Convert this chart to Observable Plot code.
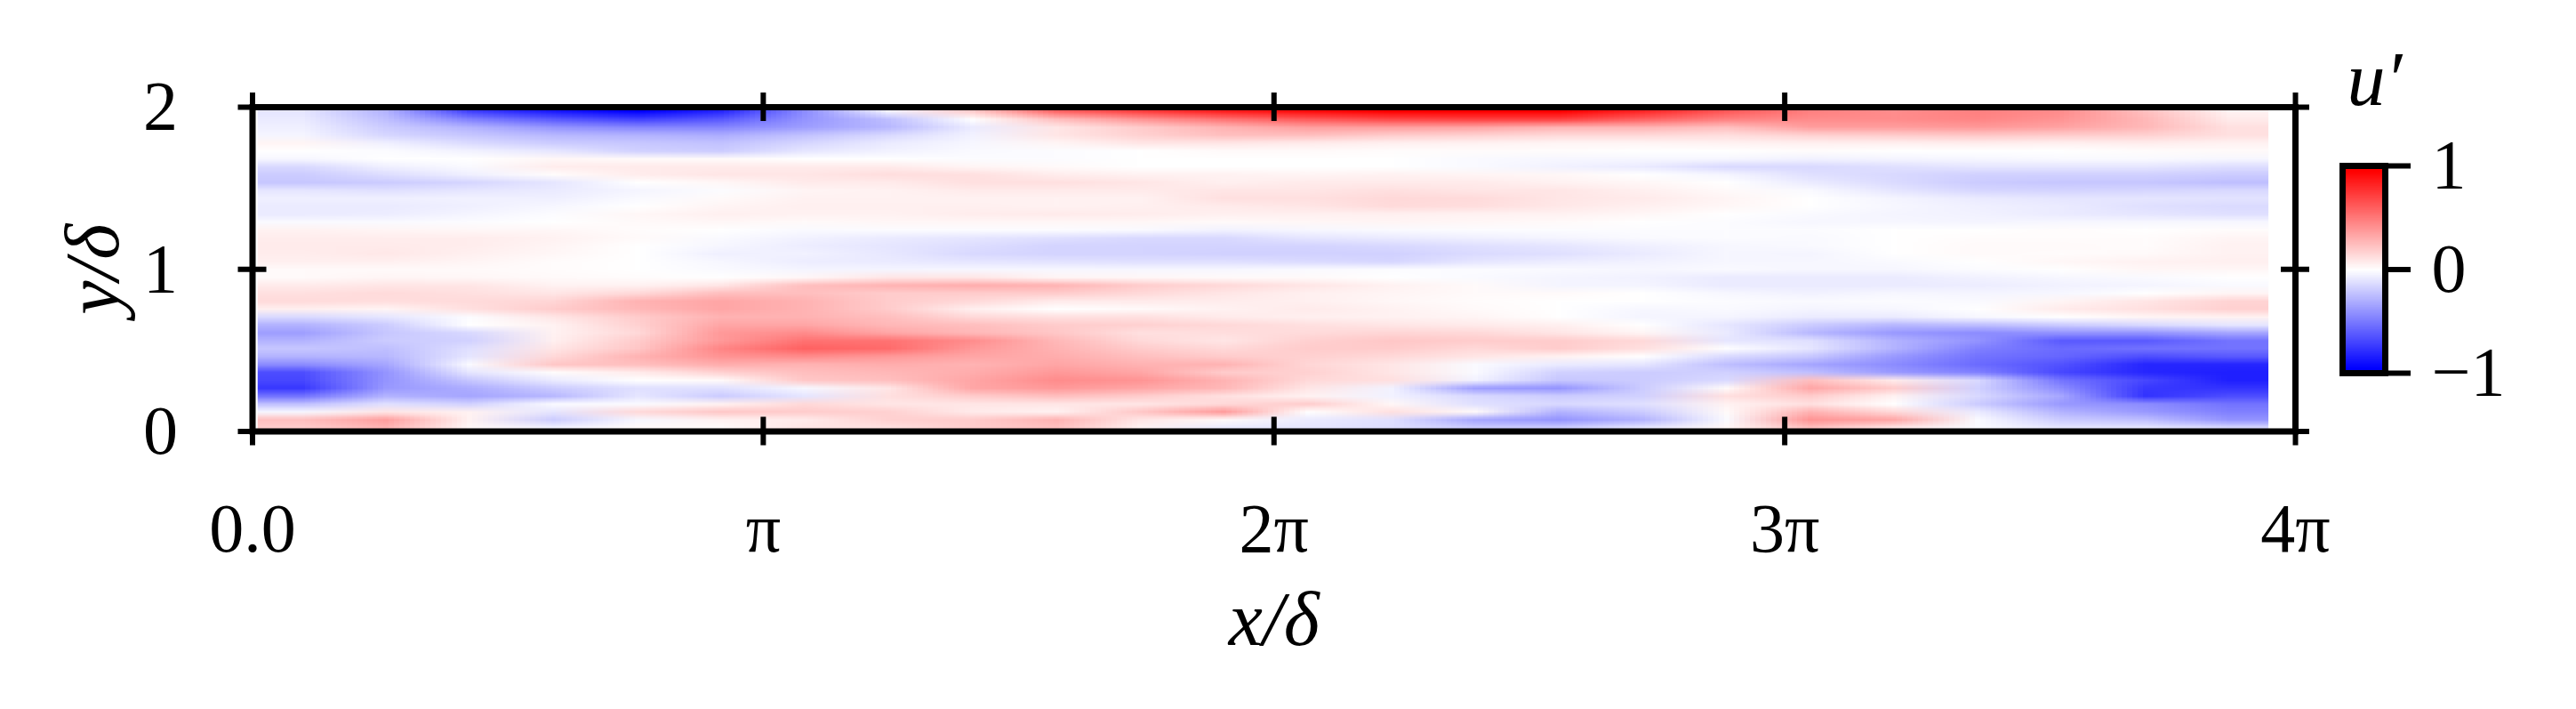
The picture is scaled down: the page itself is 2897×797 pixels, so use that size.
<!DOCTYPE html>
<html>
<head>
<meta charset="utf-8">
<style>
html,body{margin:0;padding:0;background:#fff;}
#wrap{position:relative;width:2897px;height:797px;overflow:hidden;}
#wrap svg{position:absolute;overflow:visible;}
</style>
<script src="https://cdn.jsdelivr.net/npm/d3@7"></script>
<script src="https://cdn.jsdelivr.net/npm/@observablehq/plot@0.6"></script>
</head>
<body>
<div id="wrap"></div>
<script>
const PI = Math.PI;
const xTicks = [0, PI, 2*PI, 3*PI, 4*PI];
const xLabels = ["0.0", "π", "2π", "3π", "4π"];
const yTicks = [0, 1, 2];
const barTicks = [-1, 0, 1];
const barLabels = ["−1", "0", "1"];
const barLevels = [1,.9,.8,.7,.6,.5,.4,.3,.2,.1,0,-.1,-.2,-.3,-.4,-.5,-.6,-.7,-.8,-.9,-1];
const fieldLeft = 0.01*PI, fieldRight = 3.947*PI;
// u' field, top row (y = 2) to bottom row (y = 0), left to right
const field = [
[-.10,-.30,-.75,-.90,-1.0,-.85,-.45,-.05,.20,.60,.75,.88,.95,1.0,1.0,1.0,.85,.65,.50,.45,.50,.45,.25,.05],
[-.08,-.25,-.50,-.65,-.75,-.65,-.42,-.25,.00,.25,.42,.55,.65,.72,.75,.75,.62,.50,.45,.45,.48,.42,.28,.08],
[-.06,-.20,-.30,-.42,-.48,-.48,-.38,-.28,-.08,.10,.20,.30,.38,.38,.36,.30,.30,.25,.38,.38,.40,.36,.28,.12],
[-.04,-.16,-.22,-.28,-.30,-.32,-.24,-.15,-.05,.10,.18,.25,.25,.20,.18,.15,.15,.13,.18,.20,.22,.20,.18,.12],
[.04,-.06,-.14,-.20,-.22,-.24,-.16,-.08,-.03,.04,.10,.10,.08,.06,.05,.04,.04,.05,.06,.06,.07,.06,.07,.05],
[0,-.01,-.05,-.10,-.18,-.20,-.10,-.05,-.02,-.01,0,.02,.02,.01,.01,.01,0,0,.01,0,0,0,.01,.02],
[-.03,0,0,.03,.02,.02,0,0,-.01,-.01,0,0,0,0,-.02,-.03,-.03,-.03,-.05,-.04,-.03,-.02,-.02,-.03],
[-.15,-.06,-.02,.07,.08,.08,.08,.08,.04,.02,0,0,0,0,-.02,-.05,-.08,-.15,-.15,-.12,-.10,-.10,-.10,-.13],
[-.20,-.13,-.06,.01,.07,.10,.10,.13,.12,.07,.05,.05,.04,.05,.04,.03,0,-.04,-.12,-.15,-.18,-.18,-.18,-.20],
[-.22,-.20,-.16,-.10,0,.03,.08,.08,.12,.12,.10,.06,.08,.08,.08,.05,.03,0,-.08,-.14,-.20,-.22,-.22,-.25],
[-.10,-.12,-.10,-.08,-.04,-.01,.04,.05,.08,.08,.08,.10,.10,.12,.10,.10,.06,.02,-.02,-.10,-.16,-.17,-.16,-.15],
[-.06,-.06,-.05,-.06,-.02,.02,.05,.05,.05,.05,.05,.12,.12,.15,.14,.10,.08,.04,0,-.04,-.08,-.10,-.10,-.11],
[-.08,-.08,-.06,-.03,0,.04,.06,.06,.06,.05,.06,.08,.10,.14,.13,.09,.06,.03,0,-.03,-.06,-.08,-.12,-.14],
[-.08,-.07,-.04,-.01,.03,.06,.05,.05,.07,.08,.07,.06,.06,.06,.05,.05,.03,0,-.02,-.04,-.05,-.08,-.10,-.12],
[-.02,-.02,-.01,0,.02,.03,.02,.03,.03,.03,.03,.02,.03,.04,.03,.02,0,-.01,-.03,-.03,-.04,-.03,-.03,-.03],
[.05,.04,.03,.03,.01,0,-.02,-.01,-.01,-.01,-.02,-.05,-.03,-.02,-.01,-.01,-.01,-.01,-.01,0,0,.01,0,.01],
[.07,.07,.07,.05,.02,-.02,-.05,-.08,-.10,-.12,-.15,-.15,-.10,-.08,-.06,-.04,-.02,-.01,-.02,0,.01,.01,.01,.04],
[.08,.08,.07,.04,0,-.03,-.07,-.10,-.13,-.17,-.17,-.17,-.17,-.15,-.12,-.10,-.06,-.03,-.02,0,.02,.02,.01,.05],
[.07,.09,.06,.03,0,-.06,-.05,-.09,-.15,-.17,-.17,-.18,-.18,-.18,-.14,-.12,-.08,-.03,-.04,0,.02,.01,.02,.05],
[.06,.06,.04,.01,0,-.03,-.07,-.08,-.10,-.11,-.12,-.12,-.14,-.16,-.10,-.07,-.05,-.03,-.03,-.02,0,.03,.05,.06],
[.02,.02,.02,.01,0,-.02,-.04,-.04,-.03,-.03,-.03,-.03,-.02,-.01,-.01,-.02,-.03,-.02,-.03,-.03,-.01,0,.03,.03],
[.02,.04,.03,.02,.01,0,.03,.10,.10,.04,.03,.02,.02,0,-.02,-.04,-.05,-.08,-.08,-.08,-.05,-.03,-.02,0],
[.08,.10,.10,.05,.05,.10,.25,.30,.32,.30,.20,.15,.10,.05,.02,-.04,-.04,-.08,-.08,-.08,-.07,-.05,-.04,-.02],
[.12,.14,.12,.10,.15,.25,.25,.20,.20,.20,.15,.10,.06,.04,.02,.02,0,-.03,-.05,-.03,-.04,-.03,0,.04],
[.14,.13,.14,.16,.30,.35,.30,.20,.15,.08,.08,.07,.06,.03,.01,0,0,-.01,-.02,-.01,-.02,.04,.10,.17],
[.06,.04,.12,.20,.28,.35,.30,.20,.06,0,.02,.05,.08,.05,.02,0,-.03,-.02,-.04,-.03,0,.08,.12,.18],
[-.15,-.10,-.01,.10,.20,.30,.30,.25,.15,.12,.12,.08,.06,.05,.04,0,-.04,-.04,-.08,-.08,-.03,0,.04,.05],
[-.30,-.20,0,.05,.18,.35,.35,.28,.25,.20,.18,.15,.12,.10,.08,.06,0,-.10,-.20,-.28,-.25,-.20,-.15,-.10],
[-.38,-.22,-.15,.05,.15,.40,.45,.35,.28,.22,.12,.13,.14,.16,.15,.10,.04,-.08,-.28,-.40,-.45,-.42,-.42,-.35],
[-.30,-.20,-.18,.06,.20,.40,.55,.55,.45,.28,.15,.10,.18,.22,.20,.20,.15,-.10,-.12,-.30,-.42,-.65,-.65,-.55],
[-.22,-.25,-.12,.10,.22,.48,.62,.58,.40,.30,.20,.15,.20,.20,.15,.20,.12,0,-.10,-.30,-.50,-.58,-.55,-.55],
[-.30,-.28,-.10,.15,.30,.42,.45,.40,.35,.32,.25,.20,.18,.15,.10,.05,0,-.15,-.22,-.40,-.55,-.60,-.70,-.65],
[-.45,-.35,-.02,.22,.25,.32,.30,.32,.30,.35,.30,.30,.16,.10,-.02,-.08,-.10,-.25,-.35,-.45,-.58,-.68,-.85,-.85],
[-.70,-.42,-.10,.01,.08,.18,.25,.28,.32,.40,.35,.20,.18,.10,-.02,-.18,-.20,-.18,-.25,-.40,-.50,-.72,-.85,-.88],
[-.72,-.42,-.22,-.08,0,.02,.22,.25,.35,.45,.42,.30,.15,.12,-.05,-.22,-.20,-.15,.25,.08,-.15,-.55,-.72,-.88],
[-.78,-.40,-.32,-.20,-.12,-.12,-.03,.10,.35,.40,.35,.28,.10,-.05,-.38,-.42,-.20,.02,.35,.20,-.18,-.45,-.78,-.80],
[-.55,-.30,-.35,-.28,-.10,-.20,-.10,.12,.20,.25,.20,.12,.05,-.05,-.15,-.20,-.18,.12,.20,.05,-.15,-.35,-.80,-.70],
[-.25,-.12,-.18,-.02,-.02,.05,.15,.10,.10,.10,.10,.15,.20,.03,-.12,-.15,-.12,.05,.12,0,-.20,-.40,-.45,-.55],
[-.03,.10,.05,-.10,.15,.22,.20,.18,.08,.05,.22,.40,0,.12,.02,-.30,-.20,.02,.30,.15,-.08,-.30,-.40,-.50],
[.25,.38,.05,-.20,-.03,.05,.08,.18,.20,.30,.10,.02,-.08,-.12,-.35,-.42,-.30,-.02,.42,.35,-.02,-.20,-.25,-.42],
[.20,.30,.03,-.05,.02,.02,.10,.12,.20,.25,.05,-.08,-.10,-.13,-.20,-.20,-.10,.03,.25,.10,-.02,-.10,-.10,-.15]
];
const nx = field[0].length, ny = field.length;
const serif = "'Liberation Serif', serif";
const tickFont = 78, mathFont = 86;
const colorScale = {type:"linear", domain:[-1,0,1], range:["#0000ff","#ffffff","#ff0000"], clamp:true};
const main = Plot.plot({
  width:2897, height:797, marginLeft:283.5, marginRight:316, marginTop:120, marginBottom:312.5,
  style:{background:"#fff", left:"0px", top:"0px", fontFamily:serif},
  x:{domain:[0,4*PI]}, y:{domain:[0,2]}, color:colorScale,
  marks:[
    Plot.raster(field.flat(), {width:nx, height:ny, x1:fieldLeft, x2:fieldRight, y1:2, y2:0, fill:d=>d}),
    Plot.frame({stroke:"#000", strokeWidth:7}),
    Plot.ruleX(xTicks, {y1:0, y2:0, insetTop:-16, insetBottom:-16, stroke:"#000", strokeWidth:6}),
    Plot.ruleX(xTicks, {y1:2, y2:2, insetTop:-16, insetBottom:-16, stroke:"#000", strokeWidth:6}),
    Plot.ruleY(yTicks, {x1:0, x2:0, insetLeft:-16, insetRight:-16, stroke:"#000", strokeWidth:6}),
    Plot.ruleY(yTicks, {x1:4*PI, x2:4*PI, insetLeft:-16, insetRight:-16, stroke:"#000", strokeWidth:6}),
    Plot.axisX(xTicks, {anchor:"bottom", tickSize:0, tickPadding:80, label:null, fontSize:tickFont, fontFamily:serif, fill:"#000",
      tickFormat:d=>xLabels[xTicks.indexOf(d)]}),
    Plot.axisY(yTicks, {anchor:"left", tickSize:0, tickPadding:84, label:null, fontSize:tickFont, fontFamily:serif, fill:"#000", tickFormat:d=>String(d)}),
    Plot.text(["x/δ"], {x:2*PI, y:0, dy:212, text:d=>d, fontSize:mathFont, fontFamily:serif, fontStyle:"italic", fill:"#000"}),
    Plot.text(["y/δ"], {x:0, y:1, dx:-179, rotate:-90, text:d=>d, fontSize:mathFont, fontFamily:serif, fontStyle:"italic", fill:"#000"})
  ]
});
const barLeft = 2600, barTop = 40, barW = 297, barH = 420;
const bar = Plot.plot({
  width:barW, height:barH, marginLeft:2634-barLeft, marginRight:barLeft+barW-2682, marginTop:186-barTop, marginBottom:barTop+barH-419,
  style:{background:"transparent", left:barLeft+"px", top:barTop+"px", fontFamily:serif},
  x:{domain:[0,1], axis:null}, y:{domain:[-1,1], axis:null}, color:colorScale,
  marks:[
    Plot.raster(barLevels, {width:1, height:barLevels.length, x1:0, x2:1, y1:1, y2:-1, fill:d=>d}),
    Plot.frame({stroke:"#000", strokeWidth:7}),
    Plot.axisY(barTicks, {anchor:"right", tickSize:28, tickPadding:24, strokeWidth:6, stroke:"#000", label:null, fontSize:tickFont, fontFamily:serif, fill:"#000",
      tickFormat:d=>barLabels[barTicks.indexOf(d)]}),
    Plot.text(["u′"], {x:0.75, y:1, dy:-96, text:d=>d, fontSize:mathFont, fontFamily:serif, fontStyle:"italic", fill:"#000"})
  ]
});
document.getElementById("wrap").append(main, bar);
</script>
</body>
</html>
